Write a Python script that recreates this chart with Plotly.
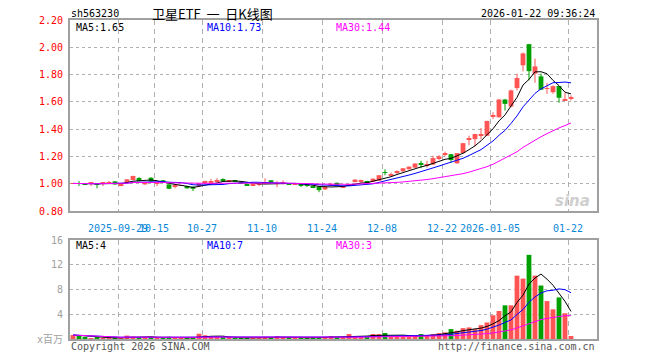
import plotly.graph_objects as go
import pandas as pd

# ---------------- data ----------------
opens = [1.000, 1.005, 1.000, 1.002, 1.000, 0.999, 1.003, 1.017, 0.983, 1.007,
         1.027, 1.042, 0.995, 1.044, 1.000, 1.025, 0.995, 0.978, 0.986, 0.983,
         0.978, 0.983, 1.003, 1.012, 1.017, 1.033, 1.018, 1.021, 1.012, 1.000,
         0.989, 0.992, 1.004, 1.025, 1.000, 1.002, 1.000, 0.997, 0.998, 0.995,
         0.982, 0.978, 0.958, 0.990, 1.007, 0.970, 0.985, 1.012, 1.018, 1.020,
         1.015, 1.022, 1.084, 1.064, 1.081, 1.091, 1.106, 1.118, 1.148, 1.136,
         1.141, 1.188, 1.212, 1.216, 1.150, 1.224, 1.322, 1.327, 1.352, 1.352,
         1.494, 1.487, 1.617, 1.566, 1.701, 1.868, 2.023, 1.807, 1.787, 1.695,
         1.671, 1.716, 1.614, 1.625]
highs = [1.004, 1.020, 1.003, 1.007, 1.001, 1.008, 1.020, 1.018, 1.002, 1.033,
         1.058, 1.049, 1.013, 1.048, 1.004, 1.027, 0.996, 0.986, 0.990, 0.985,
         0.979, 1.003, 1.022, 1.035, 1.040, 1.039, 1.024, 1.023, 1.013, 1.001,
         0.997, 1.007, 1.039, 1.026, 1.020, 1.025, 1.003, 1.002, 1.000, 0.996,
         0.984, 0.980, 0.980, 1.007, 1.008, 0.985, 0.998, 1.032, 1.030, 1.021,
         1.038, 1.063, 1.106, 1.081, 1.098, 1.115, 1.127, 1.149, 1.168, 1.168,
         1.205, 1.210, 1.235, 1.218, 1.225, 1.300, 1.352, 1.366, 1.408, 1.462,
         1.524, 1.622, 1.622, 1.690, 1.807, 1.962, 2.025, 1.917, 1.807, 1.740,
         1.721, 1.716, 1.666, 1.647]
lows = [0.998, 0.983, 0.995, 0.983, 0.966, 0.983, 1.000, 0.994, 0.981, 1.005,
        1.025, 1.018, 0.993, 1.015, 0.983, 1.005, 0.960, 0.966, 0.984, 0.965,
        0.946, 0.980, 1.001, 1.000, 1.015, 1.018, 1.014, 1.012, 0.998, 0.988,
        0.983, 0.983, 1.000, 1.006, 0.975, 0.995, 0.996, 0.995, 0.975, 0.975,
        0.968, 0.938, 0.955, 0.988, 0.992, 0.968, 0.982, 1.010, 1.007, 1.006,
        1.013, 1.020, 1.062, 1.057, 1.069, 1.088, 1.104, 1.116, 1.113, 1.118,
        1.139, 1.173, 1.200, 1.155, 1.145, 1.220, 1.282, 1.273, 1.327, 1.350,
        1.475, 1.485, 1.536, 1.560, 1.684, 1.824, 1.758, 1.740, 1.689, 1.659,
        1.659, 1.593, 1.612, 1.610]
closes = [1.002, 0.998, 0.996, 1.006, 0.998, 1.006, 1.006, 0.995, 1.002, 1.032,
          1.057, 1.020, 1.012, 1.017, 1.003, 1.007, 0.963, 0.983, 0.988, 0.966,
          0.963, 1.002, 1.020, 1.016, 1.026, 1.020, 1.022, 1.017, 1.000, 0.990,
          0.995, 0.996, 1.008, 1.007, 1.003, 1.005, 0.998, 1.000, 0.990, 0.985,
          0.972, 0.953, 0.978, 0.993, 0.993, 0.983, 0.995, 1.030, 1.022, 1.007,
          1.037, 1.062, 1.081, 1.069, 1.089, 1.113, 1.125, 1.148, 1.141, 1.143,
          1.188, 1.200, 1.222, 1.174, 1.224, 1.297, 1.330, 1.364, 1.357, 1.460,
          1.503, 1.617, 1.585, 1.684, 1.775, 1.955, 1.825, 1.860, 1.689, 1.700,
          1.715, 1.630, 1.618, 1.628]
volumes = [0.64, 0.55, 0.30, 0.12, 0.30, 0.15, 0.15, 0.20, 0.15, 0.55,
           0.40, 0.30, 0.30, 0.25, 0.20, 0.20, 0.35, 0.15, 0.15, 0.20,
           0.20, 0.85, 0.60, 0.35, 0.30, 0.20, 0.20, 0.15, 0.20, 0.20,
           0.15, 0.15, 0.35, 0.30, 0.45, 0.25, 0.20, 0.15, 0.20, 0.20,
           0.20, 0.30, 0.35, 0.45, 0.25, 0.30, 0.80, 0.40, 0.40, 0.45,
           0.80, 0.80, 0.96, 0.45, 0.45, 0.45, 0.45, 0.50, 0.80, 0.50,
           0.80, 0.96, 1.07, 1.60, 1.33, 1.76, 1.87, 1.60, 2.24, 2.67,
           3.84, 4.53, 5.44, 5.44, 10.24, 9.76, 13.60, 10.24, 8.64, 6.13,
           4.80, 6.72, 4.16, 0.48]

tick_slots = [8, 14, 22, 32, 42, 52, 62, 70, 83]
tick_labels = ["2025-09-29", "10-15", "10-27", "11-10", "11-24", "12-08",
               "12-22", "2026-01-05", "01-22"]
price_ticks = [0.80, 1.00, 1.20, 1.40, 1.60, 1.80, 2.00, 2.20]
vol_ticks = [0, 4, 8, 12, 16]
vol_tick_labels = ["x百万", "4", "8", "12", "16"]

header_code = "sh563230"
header_title = "卫星ETF\u00a0\u00a0一\u00a0\u00a0日K线图"
header_time = "2026-01-22 09:36:24"
price_ma_texts = ["MA5:1.65", "MA10:1.73", "MA30:1.44"]
vol_ma_texts = ["MA5:4", "MA10:7", "MA30:3"]

# ---------------- styling ----------------
RED = "#ff5454"
GREEN = "#00a000"
MA_COLORS = ["#000000", "#0000ff", "#ff00ff"]
GRID = "#b0b0b0"
BORDER = "#a0a0a0"
MONO = "DejaVu Sans Mono, Noto Sans CJK SC, monospace"
CJK = "Noto Sans CJK SC, DejaVu Sans, sans-serif"

W, H = 660, 360
L, R, T, B = 70, 63, 20, 21
PW, PH = W - L - R, H - T - B


def pxx(x):
    return (x - L) / PW


def pyy(y):
    return (H - B - y) / PH


n = len(closes)
idx = list(range(n))
up = [c >= o for o, c in zip(opens, closes)]
colors = [RED if u else GREEN for u in up]

MIN_BODY = 0.006
body_base, body_h = [], []
for o, c in zip(opens, closes):
    lo, hi = min(o, c), max(o, c)
    h = hi - lo
    if h < MIN_BODY:
        mid = (lo + hi) / 2
        body_base.append(mid - MIN_BODY / 2)
        body_h.append(MIN_BODY)
    else:
        body_base.append(lo)
        body_h.append(h)

cs = pd.Series(closes)
vs = pd.Series(volumes)
price_ma = [cs.rolling(w, min_periods=1).mean() for w in (5, 10, 30)]
vol_ma = [vs.rolling(w, min_periods=1).mean() for w in (5, 10, 30)]

fig = go.Figure()

# wicks
for is_up, col in ((True, RED), (False, GREEN)):
    wx, wy = [], []
    for i in idx:
        if up[i] == is_up:
            wx += [i, i, None]
            wy += [lows[i], highs[i], None]
    fig.add_trace(go.Scatter(x=wx, y=wy, mode="lines",
                             line=dict(color=col, width=1),
                             hoverinfo="skip", xaxis="x", yaxis="y"))

# bodies
fig.add_trace(go.Bar(x=idx, y=body_h, base=body_base, width=0.8,
                     marker=dict(color=colors, line=dict(width=0)),
                     xaxis="x", yaxis="y"))

for s, col in zip(price_ma, MA_COLORS):
    fig.add_trace(go.Scatter(x=idx, y=s, mode="lines",
                             line=dict(color=col, width=1),
                             xaxis="x", yaxis="y"))

# volume
fig.add_trace(go.Bar(x=idx, y=volumes, width=0.8,
                     marker=dict(color=colors, line=dict(width=0)),
                     xaxis="x2", yaxis="y2"))
for s, col in zip(vol_ma, MA_COLORS):
    fig.add_trace(go.Scatter(x=idx, y=s, mode="lines",
                             line=dict(color=col, width=1),
                             xaxis="x2", yaxis="y2"))

xrange = [-0.5, (597 - 73) / 6.0]
tickvals = [s - 0.5 for s in tick_slots]
main_bottom = pyy(211)
vol_top = pyy(240)

common_x = dict(range=xrange, tickvals=tickvals, showgrid=True,
                gridcolor=GRID, griddash="5px,4px", gridwidth=1,
                zeroline=False, showline=True, mirror=True,
                linecolor=BORDER, linewidth=2)

fig.update_layout(
    width=W, height=H,
    margin=dict(l=L, r=R, t=T, b=B, pad=0),
    paper_bgcolor="white", plot_bgcolor="white",
    showlegend=False, barmode="overlay",
    xaxis=dict(**common_x, anchor="y", ticktext=tick_labels,
               tickangle=0, ticks="outside", ticklen=7,
               tickcolor="rgba(0,0,0,0)",
               tickfont=dict(family=MONO, size=10, color="#0a88d8")),
    xaxis2=dict(**common_x, anchor="y2", matches="x", showticklabels=False),
    yaxis=dict(domain=[main_bottom, 1], range=[0.8, 2.2],
               tickvals=price_ticks, tickformat=".2f",
               ticks="outside", ticklen=3, tickcolor="rgba(0,0,0,0)",
               tickfont=dict(family=MONO, size=10, color="#ff0000"),
               showgrid=True, gridcolor=GRID, griddash="dot",
               zeroline=False, showline=True, mirror=True,
               linecolor=BORDER, linewidth=2),
    yaxis2=dict(domain=[0, vol_top], range=[0, 16],
                tickvals=vol_ticks, ticktext=vol_tick_labels,
                ticks="outside", ticklen=3, tickcolor="rgba(0,0,0,0)",
                tickfont=dict(family=MONO, size=10, color="#a0a0a0"),
                showgrid=True, gridcolor=GRID, griddash="dot",
                zeroline=False, showline=True, mirror=True,
                linecolor=BORDER, linewidth=2),
)

ann = []


def add_text(text, x, y, anchor="left", color="#000", size=10, family=MONO, **kw):
    ann.append(dict(text=text, x=pxx(x), y=pyy(y), xref="paper", yref="paper",
                    xanchor=anchor, yanchor="middle", showarrow=False,
                    font=dict(family=family, size=size, color=color), **kw))


add_text(header_code, 69, 13)
add_text(header_title, 150, 13, size=13, family=CJK)
add_text(header_time, 597, 13, anchor="right")
for t, xx, col in zip(price_ma_texts, (74, 205, 334), MA_COLORS):
    add_text(t, xx, 27, color=col)
for t, xx, col in zip(vol_ma_texts, (74, 205, 334), MA_COLORS):
    add_text(t, xx, 246, color=col)
add_text("Copyright 2026 SINA.COM", 69, 347, color="#555555")
add_text("http://finance.sina.com.cn", 597, 347, anchor="right", color="#555555")
add_text("<b><i>sina</i></b>", 592, 201, anchor="right", color="#cfcfcf", size=15,
         family="DejaVu Sans, sans-serif")

fig.update_layout(annotations=ann)
fig.write_html("out.html")
